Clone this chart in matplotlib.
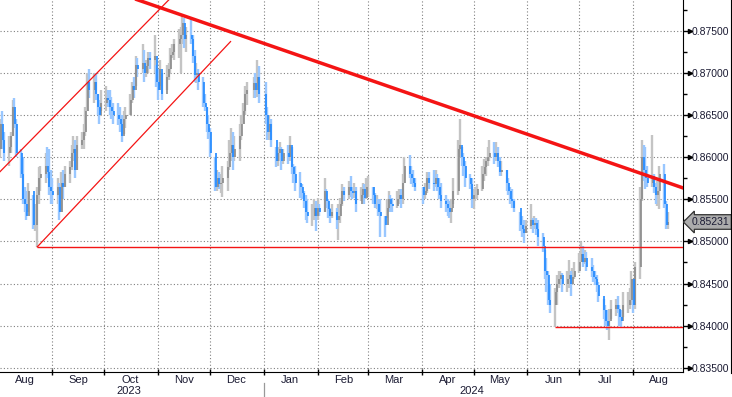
import matplotlib
matplotlib.use("Agg")
import matplotlib.pyplot as plt
import matplotlib.dates as mdates
import matplotlib.transforms as mtransforms
from matplotlib.ticker import MultipleLocator, FormatStrFormatter
import pandas as pd
import numpy as np

# EUR/GBP daily bars, 1 Aug 2023 - 21 Aug 2024
start_date = "2023-08-01"
end_date = "2024-08-21"
holidays = ["2023-12-25", "2024-01-01", "2024-03-29", "2024-04-01", "2024-05-27"]
first_open = 0.8600
last_price = 0.85231

highs = [
    # Aug 2023
    .8630, .8645, .8655, .8630, .8625, .8630, .8668, .8670, .8645, .8610, .8600, .8565,
    .8560, .8570, .8555, .8545, .8565, .8588, .8590, .8605, .8612, .8610, .8585,
    # Sep
    .8575, .8575, .8570, .8582, .8585, .8590, .8595, .8615, .8625, .8620, .8625, .8630,
    .8640, .8660, .8700, .8705, .8700, .8700, .8675, .8668, .8680,
    # Oct
    .8685, .8680, .8680, .8672, .8665, .8665, .8660, .8650, .8655, .8660, .8675, .8690,
    .8695, .8720, .8718, .8735, .8728, .8715, .8725, .8725, .8745, .8710,
    # Nov
    .8705, .8715, .8700, .8710, .8712, .8730, .8735, .8740, .8752, .8755, .8768, .8765,
    .8755, .8765, .8745, .8728, .8712, .8705, .8695, .8675, .8660, .8650,
    # Dec
    .8635, .8600, .8585, .8582, .8580, .8590, .8595, .8620, .8635, .8630, .8625, .8640,
    .8650, .8665, .8685, .8690, .8695, .8700, .8716, .8708,
    # Jan 2024
    .8690, .8660, .8650, .8645, .8612, .8612, .8618, .8612, .8610, .8615, .8625, .8612,
    .8592, .8590, .8582, .8568, .8560, .8555, .8550, .8545, .8550, .8548,
    # Feb
    .8552, .8545, .8575, .8562, .8550, .8540, .8545, .8540, .8545, .8552, .8568, .8565,
    .8572, .8578, .8565, .8570, .8565, .8565, .8570, .8568, .8575,
    # Mar
    .8578, .8565, .8558, .8555, .8550, .8550, .8530, .8550, .8560, .8555, .8552, .8560,
    .8562, .8562, .8580, .8600, .8603, .8590, .8585, .8575,
    # Apr
    .8565, .8570, .8582, .8582, .8585, .8585, .8580, .8575, .8570, .8555, .8550, .8548,
    .8550, .8575, .8620, .8645, .8612, .8605, .8595, .8580, .8575,
    # May
    .8562, .8565, .8568, .8590, .8598, .8600, .8612, .8620, .8618, .8618, .8612, .8600,
    .8595, .8585, .8575, .8565, .8562, .8550, .8535, .8530, .8525, .8525,
    # Jun
    .8545, .8528, .8530, .8528, .8525, .8510, .8490, .8480, .8465, .8450, .8445, .8460,
    .8465, .8465, .8462, .8465, .8478, .8465, .8468, .8475,
    # Jul
    .8486, .8499, .8495, .8490, .8488, .8480, .8472, .8465, .8460, .8452, .8432, .8425,
    .8418, .8420, .8430, .8432, .8435, .8425, .8418, .8440, .8440, .8445, .8465,
    # Aug 2024
    .8455, .8475, .8565, .8620, .8615, .8612, .8590, .8626, .8580, .8570, .8572, .8590,
    .8592, .8548, .8535,
]

lows = [
    # Aug 2023
    .8595, .8600, .8610, .8595, .8590, .8605, .8625, .8635, .8600, .8575, .8545, .8535,
    .8525, .8535, .8515, .8512, .8493, .8545, .8560, .8570, .8575, .8555, .8545,
    # Sep
    .8545, .8545, .8525, .8535, .8550, .8565, .8570, .8585, .8595, .8575, .8585, .8610,
    .8610, .8625, .8655, .8670, .8665, .8668, .8650, .8640, .8655,
    # Oct
    .8655, .8660, .8650, .8645, .8640, .8638, .8630, .8618, .8628, .8635, .8650, .8665,
    .8670, .8685, .8695, .8700, .8690, .8695, .8700, .8705, .8700, .8683,
    # Nov
    .8668, .8685, .8668, .8680, .8692, .8700, .8718, .8715, .8718, .8700, .8735, .8730,
    .8725, .8735, .8712, .8690, .8688, .8680, .8660, .8655, .8630, .8622,
    # Dec
    .8600, .8560, .8560, .8562, .8558, .8553, .8560, .8585, .8595, .8585, .8595, .8595,
    .8620, .8640, .8650, .8662, .8670, .8670, .8672, .8665,
    # Jan 2024
    .8640, .8620, .8620, .8612, .8588, .8590, .8595, .8585, .8592, .8592, .8595, .8580,
    .8570, .8560, .8552, .8550, .8540, .8525, .8522, .8518, .8525, .8512,
    # Feb
    .8525, .8530, .8535, .8540, .8528, .8522, .8528, .8515, .8502, .8522, .8542, .8548,
    .8550, .8553, .8550, .8552, .8535, .8548, .8552, .8545, .8550,
    # Mar
    .8553, .8545, .8540, .8538, .8530, .8505, .8505, .8528, .8535, .8535, .8535, .8540,
    .8545, .8540, .8545, .8570, .8575, .8568, .8565, .8560,
    # Apr
    .8545, .8550, .8558, .8562, .8560, .8565, .8560, .8550, .8540, .8535, .8530, .8528,
    .8522, .8545, .8555, .8600, .8590, .8578, .8565, .8562, .8540,
    # May
    .8538, .8548, .8550, .8560, .8572, .8578, .8590, .8595, .8592, .8595, .8588, .8578,
    .8578, .8560, .8555, .8545, .8540, .8535, .8512, .8505, .8498, .8510,
    # Jun
    .8515, .8510, .8515, .8508, .8495, .8488, .8455, .8440, .8425, .8415, .8398, .8425,
    .8445, .8448, .8440, .8440, .8445, .8435, .8448, .8455,
    # Jul
    .8462, .8475, .8470, .8473, .8465, .8458, .8452, .8448, .8440, .8428, .8408, .8400,
    .8395, .8383, .8408, .8412, .8415, .8400, .8398, .8410, .8415, .8420, .8425,
    # Aug 2024
    .8415, .8420, .8455, .8548, .8572, .8562, .8565, .8565, .8558, .8545, .8542, .8538,
    .8540, .8515, .8515,
]

closes = [
    # Aug 2023
    .8610, .8640, .8620, .8605, .8612, .8625, .8660, .8640, .8605, .8580, .8550, .8545,
    .8530, .8560, .8520, .8520, .8555, .8575, .8580, .8590, .8582, .8565, .8560,
    # Sep
    .8555, .8565, .8535, .8570, .8565, .8580, .8588, .8605, .8610, .8585, .8615, .8620,
    .8630, .8655, .8690, .8680, .8690, .8675, .8660, .8650, .8665,
    # Oct
    .8670, .8668, .8660, .8655, .8650, .8645, .8640, .8625, .8645, .8650, .8668, .8685,
    .8680, .8710, .8705, .8712, .8700, .8708, .8718, .8715, .8720, .8690,
    # Nov
    .8680, .8705, .8675, .8695, .8705, .8722, .8725, .8735, .8740, .8745, .8760, .8740,
    .8745, .8740, .8720, .8698, .8700, .8690, .8665, .8660, .8640, .8630,
    # Dec
    .8605, .8565, .8575, .8568, .8570, .8575, .8588, .8605, .8615, .8600, .8610, .8625,
    .8640, .8655, .8675, .8680, .8688, .8680, .8695, .8675,
    # Jan 2024
    .8650, .8630, .8640, .8620, .8595, .8605, .8610, .8595, .8605, .8600, .8615, .8588,
    .8580, .8570, .8565, .8558, .8548, .8535, .8530, .8530, .8540, .8530,
    # Feb
    .8540, .8535, .8560, .8548, .8538, .8530, .8535, .8525, .8530, .8545, .8560, .8555,
    .8565, .8560, .8558, .8560, .8545, .8555, .8562, .8552, .8565,
    # Mar
    .8565, .8555, .8545, .8545, .8535, .8530, .8520, .8540, .8550, .8545, .8542, .8550,
    .8555, .8550, .8570, .8590, .8580, .8575, .8570, .8565,
    # Apr
    .8555, .8560, .8575, .8570, .8568, .8575, .8565, .8555, .8548, .8545, .8540, .8535,
    .8540, .8560, .8610, .8615, .8600, .8590, .8575, .8568, .8550,
    # May
    .8555, .8555, .8562, .8580, .8588, .8595, .8600, .8605, .8600, .8605, .8595, .8582,
    .8585, .8570, .8560, .8550, .8548, .8540, .8520, .8515, .8510, .8518,
    # Jun
    .8525, .8520, .8522, .8515, .8505, .8495, .8465, .8460, .8430, .8425, .8440, .8450,
    .8455, .8460, .8450, .8455, .8460, .8450, .8458, .8465,
    # Jul
    .8475, .8485, .8475, .8480, .8470, .8465, .8458, .8455, .8448, .8435, .8418, .8405,
    .8400, .8405, .8420, .8425, .8420, .8410, .8405, .8425, .8425, .8430, .8455,
    # Aug 2024
    .8425, .8470, .8550, .8600, .8585, .8575, .8570, .8578, .8565, .8555, .8560, .8580,
    .8545, .8520, .8523,
]

# drawn trend / channel / support lines: (date, level) pairs
trend_line = [("2023-10-10", 0.87942), ("2024-08-31", 0.85627)]
channel_upper = [("2023-07-25", 0.85666), ("2023-11-10", 0.87930)]
channel_lower = [("2023-08-23", 0.8493), ("2023-12-13", 0.8738)]
support_1 = [("2023-08-23", 0.8493), ("2024-08-31", 0.8493)]
support_2 = [("2024-06-17", 0.8398), ("2024-08-31", 0.8398)]

plt.rcParams["font.family"] = ["Liberation Sans", "DejaVu Sans"]
text_col = "#1b1b33"

dates = pd.bdate_range(start_date, end_date, freq="C", holidays=holidays)
n = min(len(dates), len(closes), len(highs), len(lows))
x = mdates.date2num(dates[:n].to_pydatetime())
c = np.array(closes[:n])
h = np.array(highs[:n])
l = np.array(lows[:n])
o = np.concatenate([[first_open], c[:-1]])
up = c >= o

fig = plt.figure(figsize=(7.32, 3.97), dpi=100)
ax = fig.add_axes([0, 25 / 397, 683 / 732, 372 / 397])

# bars: light range, darker open-close body
ax.vlines(x[up], l[up], h[up], colors="#c4c4c4", lw=1.7, zorder=2)
ax.vlines(x[~up], l[~up], h[~up], colors="#99c7ff", lw=1.7, zorder=2)
ax.vlines(x[up] + 0.3, o[up], c[up], colors="#8a8a8a", lw=1.2, zorder=3)
ax.vlines(x[~up] + 0.3, c[~up], o[~up], colors="#1f88ff", lw=1.2, zorder=3)


def draw_line(pts, lw):
    xs = [mdates.datestr2num(d) for d, v in pts]
    ys = [v for d, v in pts]
    ax.plot(xs, ys, color="#f41414", lw=lw, zorder=4, solid_capstyle="butt")


draw_line(trend_line, 2.5)
draw_line(channel_upper, 0.9)
draw_line(channel_lower, 0.9)
draw_line(support_1, 1.0)
draw_line(support_2, 1.0)

ax.set_xlim(mdates.datestr2num("2023-08-01 18:00"), mdates.datestr2num("2024-08-29 18:00"))
ax.set_ylim(0.834489, 0.878683)

# y axis on the right
ax.yaxis.tick_right()
ax.yaxis.set_major_locator(MultipleLocator(0.005))
ax.yaxis.set_minor_locator(MultipleLocator(0.0025))
ax.yaxis.set_major_formatter(FormatStrFormatter("%.5f"))
ax.tick_params(axis="y", which="major", length=5, width=1, pad=1.5,
               labelsize=7.5, labelcolor=text_col)
ax.tick_params(axis="y", which="minor", length=3, width=1)
blend = mtransforms.blended_transform_factory(ax.transAxes, ax.transData)
yt = np.arange(0.835, 0.8751, 0.005)
ax.plot([1.01] * len(yt), yt, ls="none", marker=">", ms=3, color="black",
        transform=blend, clip_on=False)

# x axis: month boundaries with labels in the middle
month_starts = pd.date_range("2023-09-01", "2024-08-01", freq="MS")
ax.set_xticks(mdates.date2num(month_starts.to_pydatetime()))
ax.set_xticklabels([])
mids = pd.to_datetime(["2023-08-16"] + [d.strftime("%Y-%m-16") for d in month_starts])
ax.set_xticks(mdates.date2num(mids.to_pydatetime()), minor=True)
ax.set_xticklabels([d.strftime("%b") for d in mids], minor=True)
ax.tick_params(axis="x", which="major", direction="inout", length=5, width=1)
ax.tick_params(axis="x", which="minor", length=0, pad=2.5, labelsize=8, labelcolor=text_col)

xblend = mtransforms.blended_transform_factory(ax.transData, ax.transAxes)
ax.text(mdates.datestr2num("2023-10-15"), -14 / 372, "2023", transform=xblend,
        ha="center", va="top", fontsize=8, color=text_col)
ax.text(mdates.datestr2num("2024-04-30"), -14 / 372, "2024", transform=xblend,
        ha="center", va="top", fontsize=8, color=text_col)
jan1 = mdates.datestr2num("2024-01-01")
ax.plot([jan1, jan1], [-11 / 372, -25 / 372], color="#999999", lw=0.9,
        transform=xblend, clip_on=False)

ax.grid(True, which="major", ls=(0, (1, 2)), color="#808080", lw=0.8)
ax.set_axisbelow(True)

for side in ["left", "top"]:
    ax.spines[side].set_visible(False)
ax.spines["right"].set_color("black")
ax.spines["bottom"].set_color("black")

# last price tag
ax.annotate(f"{last_price:.5f}", xy=(1.0, last_price), xycoords=blend,
            xytext=(6, 0), textcoords="offset points", va="center", ha="left",
            fontsize=7.5, color=text_col,
            bbox=dict(boxstyle="larrow,pad=0.22", fc="#ababab", ec="#333333", lw=0.9),
            annotation_clip=False)

# right border of the frame
fig.add_artist(plt.Line2D([730.5 / 732, 730.5 / 732], [24 / 397, 1],
                          transform=fig.transFigure, color="black", lw=0.8))

fig.savefig("out.png", dpi=100)
